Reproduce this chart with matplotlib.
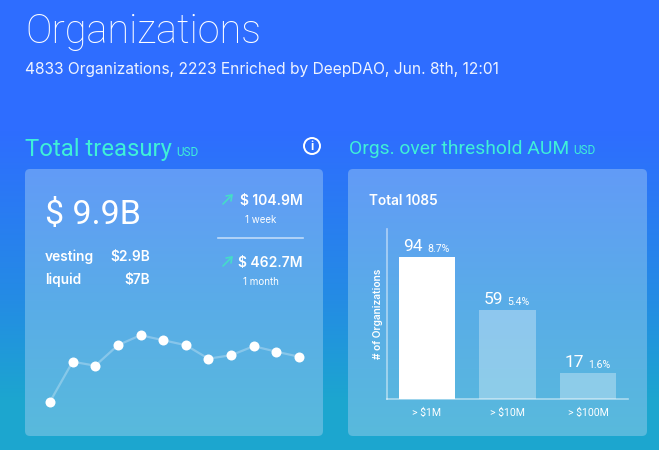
import numpy as np
import matplotlib
matplotlib.use("Agg")
import matplotlib.pyplot as plt
from matplotlib.patches import FancyBboxPatch, Circle

W, H = 659, 450
TITLE_FONT = ['Roboto', 'DejaVu Sans']
BODY_FONT = ['Inter', 'DejaVu Sans']

# data
treasury_values = [9.00, 9.80, 9.72, 10.13, 10.33, 10.23, 10.13, 9.86, 9.93, 10.11, 10.00, 9.90]
threshold_labels = ['> $1M', '> $10M', '> $100M']
threshold_counts = [94, 59, 17]
threshold_pcts = ['8.7%', '5.4%', '1.6%']
threshold_alpha = [1.0, 0.32, 0.32]

WHITE = 'white'
TEAL = '#3ff0d8'
TEAL2 = '#45dcc8'


def px_axes(l, t, r, b, **kw):
    return fig.add_axes([l / W, 1 - b / H, (r - l) / W, (b - t) / H], **kw)


def gradient(stops, n=H):
    ys = np.arange(n)
    pos = [s[0] for s in stops]
    out = np.zeros((n, 1, 3))
    for c in range(3):
        out[:, 0, c] = np.interp(ys, pos, [s[1][c] / 255 for s in stops])
    return out


fig = plt.figure(figsize=(W / 100, H / 100), dpi=100)
bg = px_axes(0, 0, W, H)
bg.set_xlim(0, W)
bg.set_ylim(H, 0)
bg.axis('off')
bg.imshow(gradient([(0, (46, 109, 255)), (130, (46, 109, 255)), (300, (36, 140, 228)),
                    (400, (28, 166, 207)), (449, (28, 166, 207))]),
          extent=(0, W, H, 0), aspect='auto', zorder=0)

card_grad = gradient([(169, (98, 155, 247)), (300, (90, 172, 232)), (436, (88, 186, 220))])
for l, r in [(25, 323), (348, 647)]:
    im = bg.imshow(card_grad, extent=(0, W, H, 0), aspect='auto', zorder=1)
    patch = FancyBboxPatch((l + 5, 174), r - l - 10, 257, boxstyle='round,pad=5,rounding_size=5',
                           transform=bg.transData, fc='none', ec='none')
    bg.add_patch(patch)
    im.set_clip_path(patch)
bg.set_xlim(0, W)
bg.set_ylim(H, 0)


def T(x, y, s, size, color=WHITE, weight='normal', ha='left', family=BODY_FONT, alpha=1, **kw):
    return bg.text(x, y, s, fontsize=size, color=color, fontweight=weight, ha=ha, va='baseline',
                   family=family, alpha=alpha, zorder=5, **kw)


T(25, 43, 'Organizations', 28.5, weight='light', family=TITLE_FONT)
T(25, 74, '4833 Organizations, 2223 Enriched by DeepDAO, Jun. 8th, 12:01', 11.2, alpha=0.92)
T(25, 156, 'Total treasury', 17.2, color=TEAL, family=TITLE_FONT)
T(176, 156, 'USD', 8.5, color=TEAL, family=TITLE_FONT)
T(349, 154, 'Orgs. over threshold AUM', 13.9, color=TEAL, family=TITLE_FONT)
T(573, 154, 'USD', 8.5, color=TEAL, family=TITLE_FONT)

bg.add_patch(Circle((312, 146), 8, fc='none', ec=WHITE, lw=1.4, zorder=5))
T(312, 150.5, 'i', 8.5, weight='bold', ha='center')

T(45, 224, '$ 9.9B', 24.5, family=TITLE_FONT)
T(45, 261, 'vesting', 9.9, weight='semibold')
T(150, 261, '$2.9B', 9.9, weight='semibold', ha='right')
T(45, 284, 'liquid', 9.9, weight='semibold')
T(150, 284, '$7B', 9.9, weight='semibold', ha='right')

T(303, 205, '$ 104.9M', 10, weight='semibold', ha='right')
T(261, 223, '1 week', 7, ha='center')
bg.plot([218, 303], [238, 238], color=WHITE, alpha=0.6, lw=1.2, zorder=4)
T(303, 267, '$ 462.7M', 10, weight='semibold', ha='right')
T(261, 285, '1 month', 7, ha='center')
for top in (194, 256):
    bg.annotate('', xy=(233, top), xytext=(223, top + 10),
                arrowprops=dict(arrowstyle='->,head_length=0.35,head_width=0.25', color=TEAL2, lw=1.2,
                                shrinkA=0, shrinkB=0), zorder=5)

T(369, 205, 'Total 1085', 9.8, weight='semibold')
bg.text(378, 314, '# of Organizations', fontsize=7.3, color=WHITE, fontweight='semibold', rotation=90,
        ha='center', va='center', family=BODY_FONT, zorder=5)

# treasury line
ax_line = px_axes(25, 300, 323, 420)
ax_line.patch.set_alpha(0)
ax_line.axis('off')
xs = np.arange(len(treasury_values))
ax_line.plot(xs, treasury_values, color=WHITE, alpha=0.28, lw=1.6, zorder=2)
ax_line.plot(xs, treasury_values, ls='none', marker='o', ms=7.2, mfc=WHITE, mec=WHITE, mew=0, zorder=3,
             clip_on=False)
step = (299 - 50) / (len(treasury_values) - 1)
ax_line.set_xlim((25 - 50) / step, (323 - 50) / step)
ax_line.set_ylim(8.634, 11.034)

# threshold bars
ax_bar = px_axes(387, 229, 628, 399)
ax_bar.patch.set_alpha(0)
bx = np.arange(len(threshold_counts))
for x, v, a in zip(bx, threshold_counts, threshold_alpha):
    ax_bar.bar(x, v, width=0.696, color=WHITE, alpha=a, lw=0, zorder=2)
ax_bar.set_xlim(-0.497, 2.497)
ax_bar.set_ylim(0, 112.6)
for x, v, p in zip(bx, threshold_counts, threshold_pcts):
    ax_bar.annotate(str(v), (x, v), xytext=(-17, 4.5), textcoords='offset points', fontsize=12.5, color=WHITE,
                    family=TITLE_FONT, ha='left', va='baseline')
    ax_bar.annotate(p, (x, v), xytext=(0, 3.5), textcoords='offset points', fontsize=7.6, color=WHITE,
                    family=TITLE_FONT, ha='left', va='baseline')
ax_bar.set_xticks(bx, threshold_labels)
ax_bar.set_yticks([])
ax_bar.tick_params(axis='x', length=0, labelsize=7.6, labelcolor=WHITE, pad=6)
for lb in ax_bar.get_xticklabels():
    lb.set_family(TITLE_FONT)
for s in ('top', 'right'):
    ax_bar.spines[s].set_visible(False)
for s in ('left', 'bottom'):
    ax_bar.spines[s].set_color((1, 1, 1, 0.5))
    ax_bar.spines[s].set_linewidth(1.2)

fig.savefig('out.png', dpi=100)
